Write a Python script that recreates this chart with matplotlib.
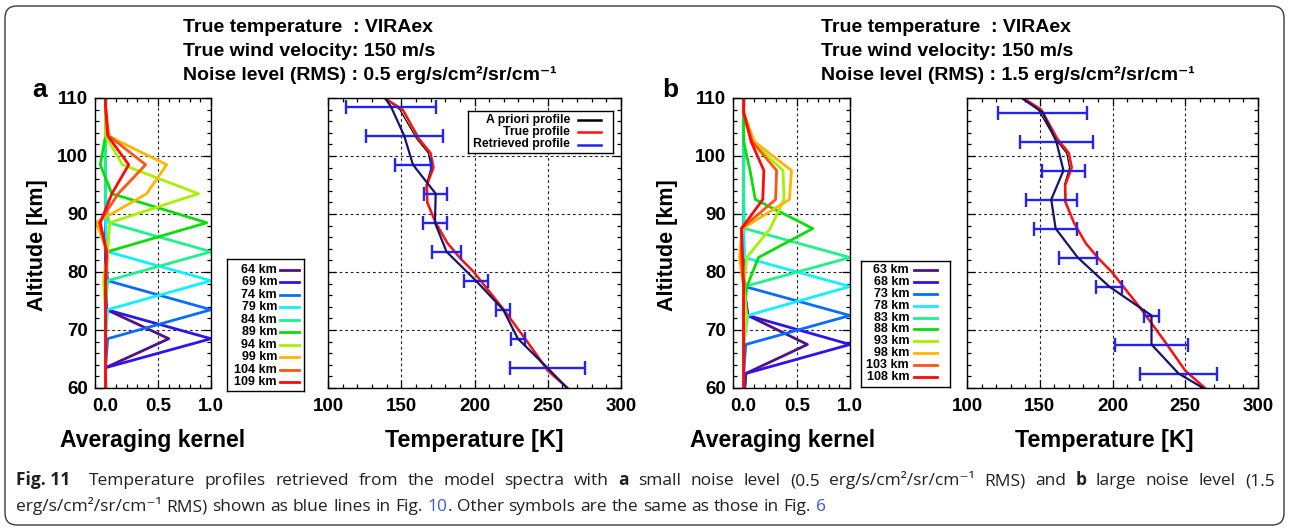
import matplotlib
matplotlib.use('Agg')
import matplotlib.pyplot as plt
from matplotlib.patches import FancyBboxPatch
from matplotlib.ticker import MultipleLocator

W, H = 1290, 529
plt.rcParams['font.family'] = ['Liberation Sans', 'DejaVu Sans']
plt.rcParams['font.weight'] = 'bold'

# ---------------- data ----------------
# averaging kernels, panel a (levels every 5 km)
lev_a = [58.5, 63.5, 68.5, 73.5, 78.5, 83.5, 88.5, 93.5, 98.5, 103.5, 108.5, 113.5]
names_a = ['64 km', '69 km', '74 km', '79 km', '84 km', '89 km', '94 km', '99 km', '104 km', '109 km']
kern_a = [
    [0, 0, 0.60, 0.01, 0, 0, 0, 0, 0, 0, 0, 0],
    [0, 0, 1.00, 0.01, 0, 0, 0, 0, 0, 0, 0, 0],
    [0, 0, 0.02, 1.00, 0.02, 0, 0, 0, 0, 0, 0, 0],
    [0, 0, 0, 0.02, 1.00, 0.02, 0, 0, 0, 0, 0, 0],
    [0, 0, 0, 0, 0.02, 1.00, 0.03, 0, 0, 0, 0, 0],
    [0, 0, 0, 0, 0, 0.02, 0.96, 0.06, -0.05, 0, 0, 0],
    [0, 0, 0, 0, -0.02, 0.02, 0.04, 0.88, 0.16, 0, 0, 0],
    [0, 0, 0, 0, 0, 0.02, -0.09, 0.39, 0.58, 0.02, 0, 0],
    [0, 0, 0, 0, 0, 0.01, -0.06, 0.12, 0.38, 0.03, 0, 0],
    [0, 0, 0, 0, 0, 0.01, -0.05, 0.06, 0.22, 0.02, 0, 0],
]

# averaging kernels, panel b
lev_b = [57.5, 62.5, 67.5, 72.5, 77.5, 82.5, 87.5, 92.5, 97.5, 102.5, 107.5, 112.5]
names_b = ['63 km', '68 km', '73 km', '78 km', '83 km', '88 km', '93 km', '98 km', '103 km', '108 km']
kern_b = [
    [0, 0.02, 0.60, 0.04, 0, 0, 0, 0, 0, 0, 0, 0],
    [0, 0.02, 1.00, 0.04, 0, 0, 0, 0, 0, 0, 0, 0],
    [0, 0, 0.02, 1.00, 0.01, 0, 0, 0, 0, 0, 0, 0],
    [0, 0, 0, 0.04, 1.00, 0.01, 0, 0, 0, 0, 0, 0],
    [0, 0, 0, 0, 0.01, 1.00, 0.01, 0, 0, 0, 0, 0],
    [0, 0, 0, 0, 0.03, 0.14, 0.65, 0.11, 0.06, 0, 0, 0],
    [0, 0, 0, 0.03, 0, 0.03, 0.25, 0.38, 0.37, 0.08, 0, 0],
    [0, 0, 0, 0, 0, -0.04, -0.01, 0.43, 0.45, 0.10, 0, 0],
    [0, 0, 0, 0, 0, -0.02, -0.02, 0.30, 0.31, 0.08, 0, 0],
    [0, 0, 0, 0, 0, -0.01, -0.02, 0.18, 0.19, 0.07, 0, 0],
]

kern_colors = ['#4e1384', '#2f12ec', '#0a6cff', '#12efff', '#1ef28c',
               '#0ade0a', '#a6f000', '#ffb600', '#ff5412', '#ff0a0a']

# temperature profiles (same true / a priori for both panels)
prof_alt = [58, 60, 63, 68, 73.5, 80, 82.3, 85, 88.5, 92, 95, 98, 100.5, 103, 108, 110, 112]
true_T = [272, 263.5, 250, 236, 220, 199.5, 190.5, 181.5, 173.5, 167.8, 167.5, 172, 170, 162, 151, 138.5, 128]
apriori_T = [272, 263.5, 250, 236, 220, 199.5, 190.5, 181.5, 173.5, 167.5, 167, 170.5, 168.5, 160.5, 149, 139, 129]

# retrieved profiles and errors
ret_a = [269, 249.7, 229.6, 219.6, 201, 180.9, 173, 173.5, 158, 152, 143, 129.5]
err_a = [25.6, 4.9, 4.9, 8.3, 9.7, 8.3, 8, 12.5, 26.4, 31]
ret_b = [279, 245.4, 226.8, 226.8, 197.7, 176.1, 160.9, 157.9, 166.3, 161.4, 152, 123]
err_b = [26.5, 25.3, 4.9, 9.1, 13, 14.9, 17.4, 14.5, 25, 30.6]

headers = ['True temperature  : VIRAex', 'True wind velocity: 150 m/s']
noise_a = 'Noise level (RMS) : 0.5 erg/s/cm\u00b2/sr/cm\u207b\u00b9'
noise_b = 'Noise level (RMS) : 1.5 erg/s/cm\u00b2/sr/cm\u207b\u00b9'

# ---------------- figure ----------------
fig = plt.figure(figsize=(W / 100, H / 100), dpi=100)
bg = fig.add_axes([0, 0, 1, 1], zorder=-1)
bg.set_xlim(0, W)
bg.set_ylim(H, 0)
bg.axis('off')
bg.add_patch(FancyBboxPatch((5, 6), 1279, 519, boxstyle='round,pad=0,rounding_size=12',
                            fc='white', ec='#3a3a3a', lw=1.0))


def add_ax(l, t, r, b):
    return fig.add_axes([l / W, 1 - b / H, (r - l) / W, (b - t) / H])


def style(ax):
    ax.set_ylim(60, 110)
    ax.yaxis.set_major_locator(MultipleLocator(10))
    ax.yaxis.set_minor_locator(MultipleLocator(2))
    ax.tick_params(which='both', direction='in', top=True, right=True, width=0.9,
                   labelsize=13.5, pad=7)
    ax.tick_params(which='major', length=6)
    ax.tick_params(which='minor', length=3)
    ax.grid(True, which='major', ls=(0, (2.5, 2.5)), color='#222222', lw=0.8)
    for s in ax.spines.values():
        s.set_linewidth(1.0)


def kernel_panel(l, r, lev, kern, names, legbox):
    ax = add_ax(l, 98, r, 388)
    style(ax)
    for vals, c in zip(kern, kern_colors):
        ax.plot(vals, lev, color=c, lw=2.0)
    ax.set_xlim(-0.1, 1.0)
    ax.set_xticks([0, 0.5, 1.0])
    ax.set_xticklabels(['0.0', '0.5', '1.0'])
    ax.xaxis.set_minor_locator(MultipleLocator(0.1))
    ax.tick_params(axis='y', pad=5)

    # legend box with right-aligned labels
    bl, bt, br, bb, tx, l0, l1, y0, y1 = legbox
    lg = add_ax(bl, bt, br, bb)
    lg.set_xlim(bl, br)
    lg.set_ylim(bb, bt)
    lg.set_xticks([])
    lg.set_yticks([])
    for s in lg.spines.values():
        s.set_linewidth(1.0)
    step = (y1 - y0) / (len(names) - 1)
    for i, (nm, c) in enumerate(zip(names, kern_colors)):
        yy = y0 + i * step
        lg.text(tx, yy, nm, ha='right', va='center', fontsize=9)
        lg.plot([l0, l1], [yy, yy], color=c, lw=2.0)
    return ax


def temp_panel(l, r, lev, ret, err, legend):
    ax = add_ax(l, 98, r, 388)
    style(ax)
    ax.plot(apriori_T, prof_alt, color='black', lw=0.9)
    ax.plot(true_T, prof_alt, color='#ff1010', lw=1.8)
    ax.errorbar(ret[1:-1], lev[1:-1], xerr=err, fmt='none', ecolor='#2424ee',
                elinewidth=1.7, capsize=4.8, capthick=1.7)
    ax.plot(ret, lev, color='#15156e', lw=1.6)
    ax.set_xlim(100, 300)
    ax.set_xticks([100, 150, 200, 250, 300])
    ax.xaxis.set_minor_locator(MultipleLocator(10))
    ax.tick_params(axis='y', labelleft=False)
    if legend:
        lg = add_ax(468, 111, 613, 153)
        lg.set_xlim(468, 613)
        lg.set_ylim(153, 111)
        lg.set_xticks([])
        lg.set_yticks([])
        for s in lg.spines.values():
            s.set_linewidth(1.0)
        for yy, nm, c in zip([119.5, 132, 144.5],
                             ['A priori profile', 'True profile', 'Retrieved profile'],
                             ['black', '#ff1010', '#2424ee']):
            lg.text(570, yy, nm, ha='right', va='center', fontsize=8.8)
            lg.plot([578, 601], [yy, yy], color=c, lw=1.8)
    return ax


kernel_panel(95, 211, lev_a, kern_a, names_a,
             (227, 259, 304, 391, 277, 280, 299, 270, 382))
temp_panel(328, 621, lev_a, ret_a, err_a, True)
kernel_panel(733, 850, lev_b, kern_b, names_b,
             (861, 261, 950, 387, 909, 914, 937, 270, 377))
temp_panel(967, 1258, lev_b, ret_b, err_b, False)

# ---------------- text ----------------
for x0, noise in [(183, noise_a), (821, noise_b)]:
    bg.text(x0, 28, headers[0], fontsize=14, va='center')
    bg.text(x0, 51, headers[1], fontsize=14, va='center')
    bg.text(x0, 75, noise, fontsize=14, va='center')

for dx, lab in [(0, 'a'), (630, 'b')]:
    bg.text(40 + dx, 90, lab, fontsize=19, ha='center', va='center')
    bg.text(37 + dx, 245, 'Altitude [km]', fontsize=15.5, rotation=90, ha='center', va='center')
    bg.text(153 + dx, 440, 'Averaging kernel', fontsize=16.6, ha='center', va='center')
    bg.text(474 + dx, 440, 'Temperature [K]', fontsize=16.8, ha='center', va='center')

# caption with mixed styles (first line justified)
cap_font = ['Open Sans', 'DejaVu Sans']
cap_col = '#231f20'
link_col = '#3a5bd0'
cap_size = 12.5
renderer = fig.canvas.get_renderer()


def words(s, w='normal', c=cap_col, first_gap=1):
    out = []
    for i, word in enumerate(s.split(' ')):
        out.append((word, w, c, first_gap if i == 0 else 1))
    return out


def place(y, tokens, x0, x1=None):
    items = []
    for s, w, c, g in tokens:
        t = bg.text(0, y, s, fontsize=cap_size, fontweight=w, color=c, family=cap_font,
                    va='baseline', ha='left')
        items.append((t, t.get_window_extent(renderer=renderer).width, g))
    units = sum(g for _, _, g in items[1:])
    if x1 is None:
        gap = cap_size * 100 / 72 * 0.27
    else:
        gap = (x1 - x0 - sum(wd for _, wd, _ in items)) / units
    x = x0
    for i, (t, wd, g) in enumerate(items):
        if i > 0:
            x += g * gap
        t.set_x(x)
        x += wd


line1 = ([('Fig. 11', 'bold', cap_col, 0)]
         + words('Temperature profiles retrieved from the model spectra with', first_gap=2)
         + words('a', 'bold')
         + words('small noise level (0.5 erg/s/cm\u00b2/sr/cm\u207b\u00b9 RMS) and')
         + words('b', 'bold')
         + words('large noise level (1.5'))
line2 = (words('erg/s/cm\u00b2/sr/cm\u207b\u00b9 RMS) shown as blue lines in Fig.', first_gap=0)
         + words('10', c=link_col)
         + words('. Other symbols are the same as those in Fig.', first_gap=0)
         + words('6', c=link_col))
place(485, line1, 16, 1275)
place(511, line2, 16)

fig.savefig('out.png', dpi=100)
